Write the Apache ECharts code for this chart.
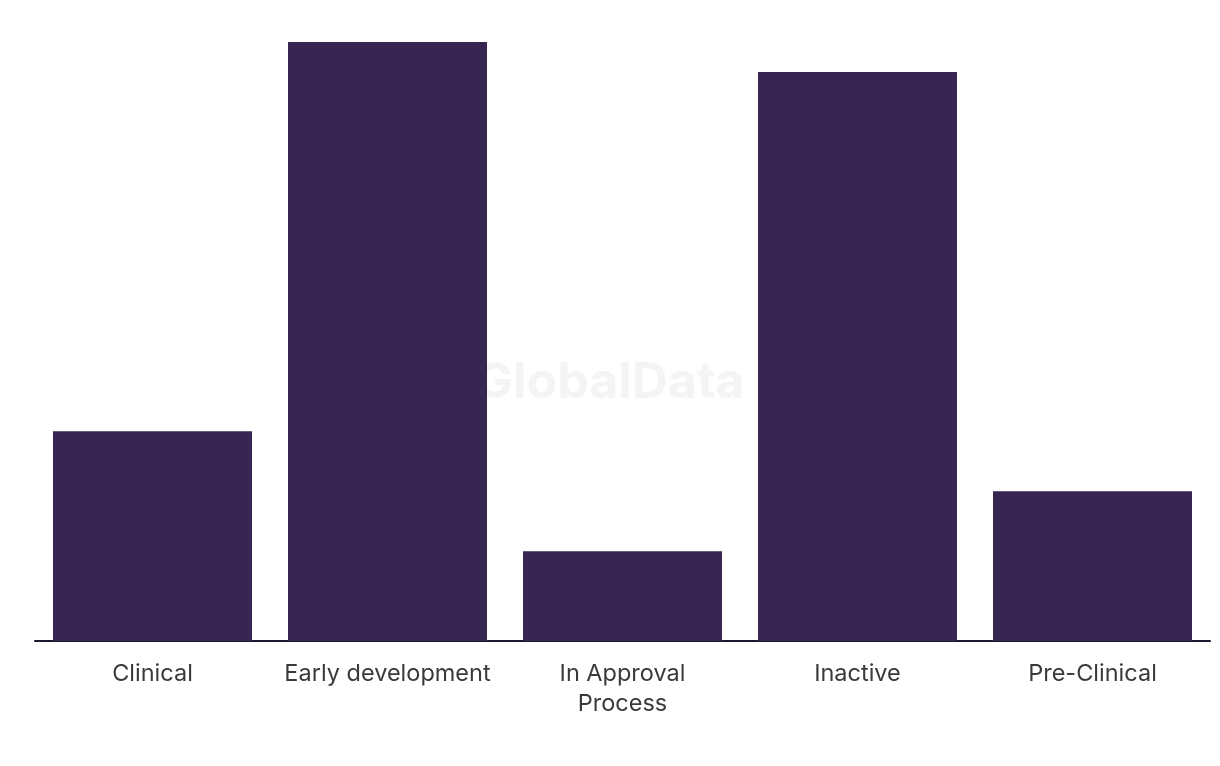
<!DOCTYPE html>
<html><head><meta charset="utf-8">
<script src="https://cdn.jsdelivr.net/npm/echarts@6/dist/echarts.min.js"></script>
<style>html,body{margin:0;padding:0;background:#fff}#c{width:1220px;height:766px}</style>
</head><body><div id="c"></div>
<script>
const categories = ["Clinical", "Early development", "In Approval\nProcess", "Inactive", "Pre-Clinical"];
const values = [7, 20, 3, 19, 5];

const chart = echarts.init(document.getElementById('c'), null, {renderer: 'canvas'});
chart.setOption({
  animation: false,
  backgroundColor: '#ffffff',
  graphic: [{
    type: 'text', left: 'center', top: 358, z: -1, silent: true,
    style: {text: 'GlobalData', font: 'bold 50px Inter', fill: '#f4f4f4'}
  }],
  grid: {left: 35, right: 10, top: 42, bottom: 125},
  xAxis: {
    type: 'category', data: categories,
    axisLine: {lineStyle: {color: '#1a1a2e', width: 2}},
    axisTick: {show: false},
    axisLabel: {color: '#3a3a3a', fontSize: 23.5, fontFamily: 'Inter', lineHeight: 30, margin: 18, interval: 0}
  },
  yAxis: {type: 'value', min: 0, max: 20, show: false, splitLine: {show: false}},
  series: [{
    type: 'bar', data: values, barWidth: 199, z: 2,
    itemStyle: {color: '#372552'}
  }]
});
</script></body></html>
